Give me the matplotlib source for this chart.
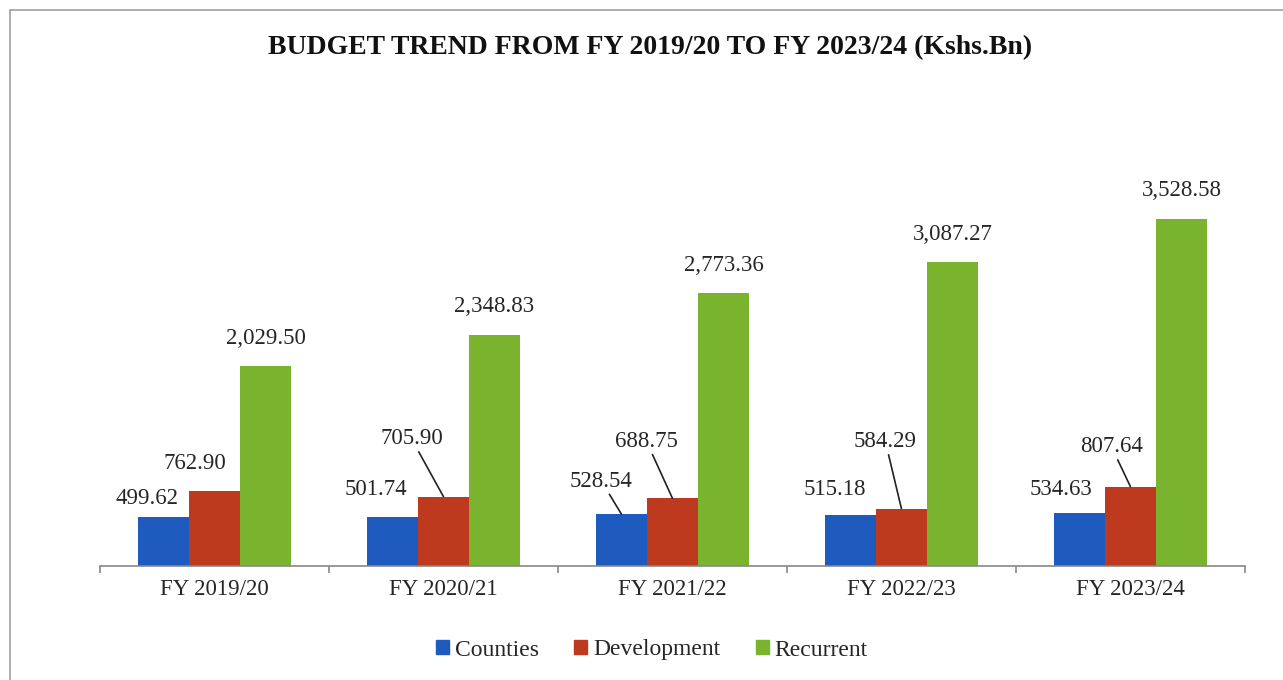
import matplotlib.pyplot as plt
from matplotlib.patches import Rectangle, Patch

# data
years = ['FY 2019/20', 'FY 2020/21', 'FY 2021/22', 'FY 2022/23', 'FY 2023/24']
counties = [499.62, 501.74, 528.54, 515.18, 534.63]
development = [762.90, 705.90, 688.75, 584.29, 807.64]
recurrent = [2029.50, 2348.83, 2773.36, 3087.27, 3528.58]

# label offsets (pixels from bar top) and whether a leader line is drawn
counties_off = [(-16, 18), (-16, 27), (-20, 33), (-16, 26), (-18, 24)]
counties_lead = [False, False, True, False, False]
dev_off = [(-20, 27), (-32, 58), (-26, 57), (-16, 67), (-19, 40)]
dev_lead = [False, True, True, True, True]

blue = '#1F5BBE'
red = '#BE3A1E'
green = '#7AB32E'
txt = '#262626'

plt.rcParams['font.family'] = ['Liberation Serif', 'DejaVu Serif']

fig = plt.figure(figsize=(12.83, 6.8), dpi=100)
ax = fig.add_axes([0.0779, 0.1676, 0.8924, 0.5788])

# border of the page box
fig.patches.append(Rectangle((10 / 1283, -0.1), 1.2, 1.1 - 10 / 680,
                             transform=fig.transFigure, fill=False,
                             edgecolor='#a0a0a0', linewidth=1.2))

w = 0.223
x = list(range(len(years)))
ax.bar([i - w for i in x], counties, w, color=blue, label='Counties')
ax.bar(x, development, w, color=red, label='Development')
ax.bar([i + w for i in x], recurrent, w, color=green, label='Recurrent')


def label(xp, val, off, lead):
    props = None
    if lead:
        props = dict(arrowstyle='-', color='#222222', lw=1.2, shrinkA=0, shrinkB=0)
    ax.annotate(f'{val:,.2f}', xy=(xp, val), xytext=off, textcoords='offset pixels',
                ha='center', va='center', fontsize=16.5, color=txt, arrowprops=props)


for i in x:
    label(i - w, counties[i], counties_off[i], counties_lead[i])
    label(i, development[i], dev_off[i], dev_lead[i])
    label(i + w, recurrent[i], (0, 28), False)

ax.set_xlim(-0.5, 4.5)
ax.set_ylim(0, 4000)
ax.set_xticks(x)
ax.set_xticklabels(years, fontsize=16.5, color=txt)
ax.set_xticks([i - 0.5 for i in range(6)], minor=True)
ax.tick_params(axis='x', which='major', length=0, pad=9)
ax.tick_params(axis='x', which='minor', length=5, color='#888888', width=1.2)
ax.set_yticks([])
for s in ['top', 'right', 'left']:
    ax.spines[s].set_visible(False)
ax.spines['bottom'].set_color('#888888')
ax.spines['bottom'].set_linewidth(1.2)

fig.text(650 / 1283, 1 - 48 / 680, 'BUDGET TREND FROM FY 2019/20 TO FY 2023/24 (Kshs.Bn)',
         ha='center', va='center', fontsize=20, fontweight='bold', color='#111111')

handles = [Patch(color=blue), Patch(color=red), Patch(color=green)]
fig.legend(handles, ['Counties', 'Development', 'Recurrent'], loc='center',
           bbox_to_anchor=(652 / 1283, 1 - 650 / 680), ncol=3, frameon=False,
           fontsize=17, handlelength=0.55, handleheight=0.55, handletextpad=0.25,
           columnspacing=1.5, labelcolor=txt)

fig.savefig('out.png', dpi=100, facecolor='white')
